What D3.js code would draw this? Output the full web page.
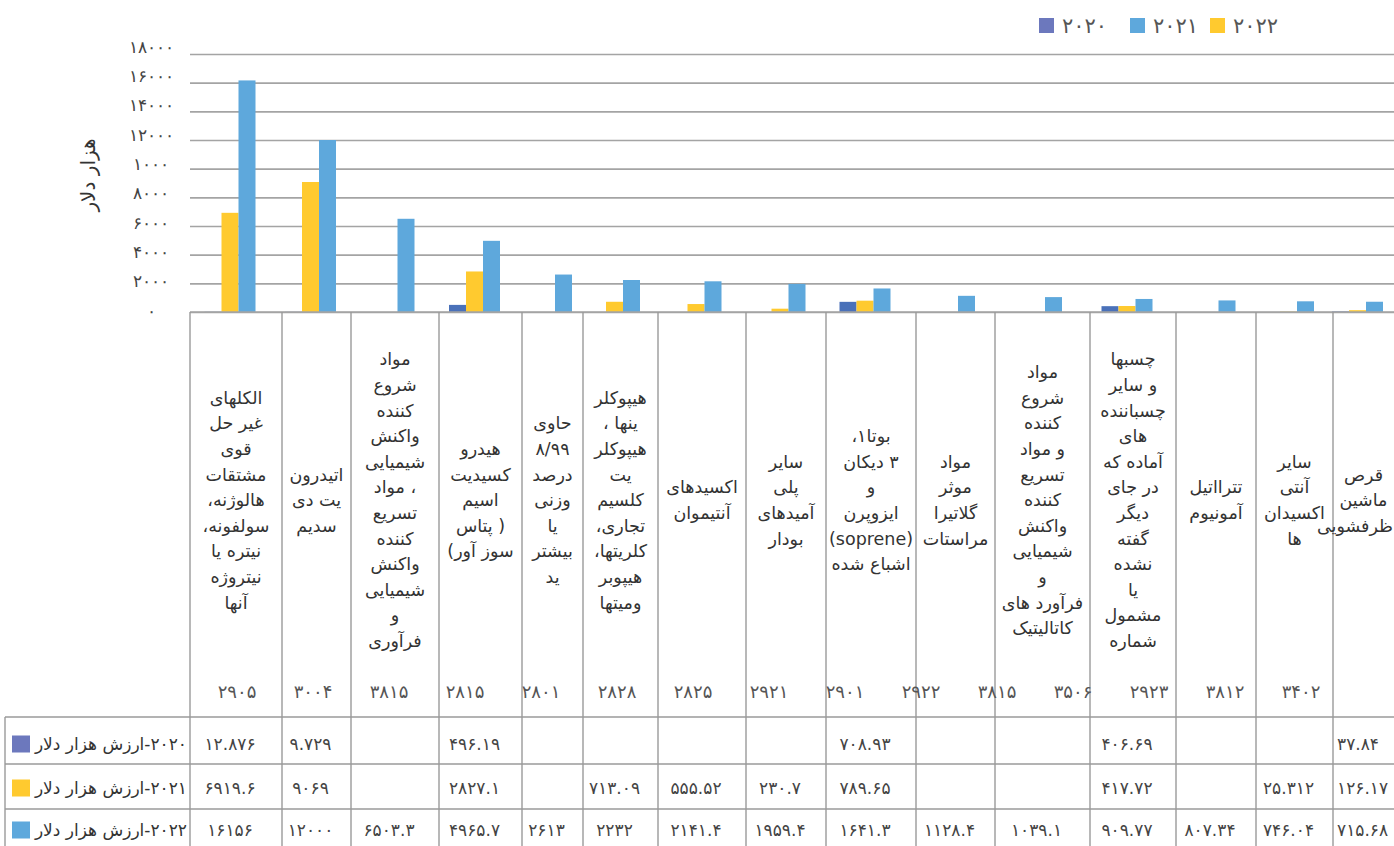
<!DOCTYPE html>
<html>
<head>
<meta charset="utf-8">
<script src="https://cdn.jsdelivr.net/npm/d3@7"></script>
<style>
  body { margin: 0; background: #fff; }
  svg { display: block; font-family: "DejaVu Sans", sans-serif; }
</style>
</head>
<body>
<div id="chart"></div>
<script>
//data
const years = ["2020", "2021", "2022"];
const hsCodes = [2905, 3004, 3815, 2815, 2801, 2828, 2825, 2921, 2901, 2922, 3815, 3506, 2923, 3812, 3402];
const categories = [
    "الکلهای\nغیر حل\nقوی\nمشتقات\nهالوژنه،\nسولفونه،\nنیتره یا\nنیتروژه\nآنها",
    "اتیدرون\nیت دی\nسدیم",
    "مواد\nشروع\nکننده\nواکنش\nشیمیایی\n، مواد\nتسریع\nکننده\nواکنش\nشیمیایی\nو\nفرآوری",
    "هیدرو\nکسیدیت\nاسیم\n( پتاس\nسوز آور)",
    "حاوی\n۸/۹۹\nدرصد\nوزنی\nیا\nبیشتر\nید",
    "هیپوکلر\nینها ،\nهیپوکلر\nیت\nکلسیم\nتجاری،\nکلریتها،\nهیپوبر\nومیتها",
    "اکسیدهای\nآنتیموان",
    "سایر\nپلی\nآمیدهای\nبودار",
    "بوتا۱،\n۳ دیکان\nو\nایزوپرن\n(soprene)\nاشباع شده",
    "مواد\nموثر\nگلاتیرا\nمراستات",
    "مواد\nشروع\nکننده\nو مواد\nتسریع\nکننده\nواکنش\nشیمیایی\nو\nفرآورد های\nکاتالیتیک",
    "چسبها\nو سایر\nچسباننده\nهای\nآماده که\nدر جای\nدیگر\nگفته\nنشده\nیا\nمشمول\nشماره",
    "تترااتیل\nآمونیوم",
    "سایر\nآنتی\nاکسیدان\nها",
    "قرص\nماشین\nظرفشویی"
];
const values2020 = [12.876, 9.729, null, 496.19, null, null, null, null, 708.93, null, null, 406.69, null, null, 37.84];
const values2021 = [6919.6, 9069, null, 2827.1, null, 713.09, 555.52, 230.7, 789.65, null, null, 417.72, null, 25.312, 126.17];
const values2022 = [16156, 12000, 6503.3, 4965.7, 2613, 2232, 2141.4, 1959.4, 1641.3, 1128.4, 1039.1, 909.77, 807.34, 746.04, 715.68];
const yTicks = [0, 2000, 4000, 6000, 8000, 10000, 12000, 14000, 16000, 18000];
const yTickLabels = ["۰", "۲۰۰۰", "۴۰۰۰", "۶۰۰۰", "۸۰۰۰", "۱۰۰۰", "۱۲۰۰۰", "۱۴۰۰۰", "۱۶۰۰۰", "۱۸۰۰۰"];
const rowLabel = "ارزش هزار دلار";

//layout
const width = 1394, height = 846;
const colEdges = [190, 282, 351, 439, 522, 583, 658, 746, 826, 916, 995, 1090, 1176, 1256, 1333, 1394];
const plotTop = 54, plotBottom = 312;
const tableTop = 717;
const rowLines = [764, 809];
const rowMid = [744, 788, 830];

//bars order in each group: 2020, 2021, 2022 ; legend and table keys are coloured as in the source
const barColor = {"2020": "#4a71b9", "2021": "#ffca2f", "2022": "#5ea8dc"};
const legendColor = {"2020": "#6c78bd", "2021": "#5ea8dc", "2022": "#ffca2f"};
const keyColor = {"2020": "#6c78bd", "2021": "#ffca2f", "2022": "#5ea8dc"};
const gridColor = "#a4a4a4";

const faDigits = "۰۱۲۳۴۵۶۷۸۹";
const toFa = s => String(s).replace(/[0-9]/g, d => faDigits[+d]);

const byYear = {"2020": values2020, "2021": values2021, "2022": values2022};

const svg = d3.select("#chart").append("svg")
    .attr("width", width)
    .attr("height", height);

svg.append("rect").attr("width", width).attr("height", height).attr("fill", "#fff");

//scales
const x = d3.scaleLinear()
    .domain(d3.range(colEdges.length))
    .range(colEdges);
const colMid = i => (x(i) + x(i + 1)) / 2;
const xInner = d3.scaleBand()
    .domain(years)
    .range([-25.5, 25.5]);
const y = d3.scaleLinear()
    .domain([0, 18000])
    .range([plotBottom, plotTop]);
const codeX = d3.scaleBand()
    .domain(d3.range(hsCodes.length))
    .range([199, 1339]);

//grid + y labels
const yAxis = svg.append("g")
    .attr("transform", `translate(${colEdges[0]},0)`)
    .call(d3.axisLeft(y)
        .tickValues(yTicks)
        .tickSize(-(width - colEdges[0]))
        .tickPadding(0)
        .tickFormat((d, i) => yTickLabels[i]));
yAxis.select(".domain").remove();
yAxis.selectAll(".tick line")
    .attr("stroke", gridColor)
    .attr("stroke-width", 1.6);
yAxis.selectAll(".tick text")
    .attr("x", -39)
    .attr("dy", d => 4 - d / 3000)
    .attr("text-anchor", "middle")
    .attr("fill", "#444")
    .style("font-size", "17px");

//y title
svg.append("text")
    .attr("transform", "translate(95,175) rotate(-90)")
    .attr("text-anchor", "middle")
    .attr("direction", "rtl")
    .attr("fill", "#333")
    .style("font-size", "20px")
    .text("هزار دلار");

//bars
const barData = [];
categories.forEach((c, i) => {
    years.forEach(yr => {
        const v = byYear[yr][i];
        if (v != null) barData.push({i: i, year: yr, value: v});
    });
});
svg.append("g").selectAll("rect")
    .data(barData)
    .enter()
    .append("rect")
        .attr("x", d => colMid(d.i) - 6 + xInner(d.year))
        .attr("y", d => y(d.value))
        .attr("width", xInner.bandwidth())
        .attr("height", d => y(0) - y(d.value))
        .attr("fill", d => barColor[d.year]);

//x axis line
svg.append("line")
    .attr("x1", colEdges[0]).attr("x2", width)
    .attr("y1", plotBottom).attr("y2", plotBottom)
    .attr("stroke", gridColor).attr("stroke-width", 1.6);

//table lines
const lines = svg.append("g").attr("stroke", "#9a9a9a").attr("stroke-width", 1.4);
colEdges.slice(0, -1).forEach((e, i) => {
    lines.append("line")
        .attr("x1", x(i)).attr("x2", x(i))
        .attr("y1", plotBottom).attr("y2", height);
});
lines.append("line").attr("x1", 5).attr("x2", 5).attr("y1", tableTop).attr("y2", height);
[tableTop].concat(rowLines).forEach(ly => {
    lines.append("line")
        .attr("x1", 5).attr("x2", width)
        .attr("y1", ly).attr("y2", ly);
});

//category labels
const lineH = 25.6;
const catG = svg.append("g");
categories.forEach((c, i) => {
    const parts = c.split("\n");
    const t = catG.append("text")
        .attr("text-anchor", "middle")
        .attr("direction", "rtl")
        .attr("fill", "#333")
        .style("font-size", "17.5px");
    parts.forEach((p, k) => {
        const ts = t.append("tspan")
            .attr("x", colMid(i))
            .attr("y", 500 - (parts.length - 1) * lineH / 2 + k * lineH)
            .attr("dy", "0.35em")
            .text(p);
        //keep wide lines of the last column inside the page
        const w = ts.node().getComputedTextLength();
        if (colMid(i) + w / 2 > width - 1) ts.attr("x", width - 1 - w / 2);
    });
});

//hs codes row
svg.append("g").selectAll("text")
    .data(hsCodes)
    .enter()
    .append("text")
        .attr("x", (d, i) => codeX(i) + codeX.bandwidth() / 2)
        .attr("y", 692)
        .attr("dy", "0.35em")
        .attr("text-anchor", "middle")
        .attr("fill", "#555")
        .style("font-size", "18px")
        .text(d => toFa(d));

//data table rows
years.forEach((yr, r) => {
    svg.append("rect")
        .attr("x", 12).attr("y", rowMid[r] - 8.5)
        .attr("width", 18).attr("height", 17)
        .attr("fill", keyColor[yr]);
    svg.append("text")
        .attr("x", 187).attr("y", rowMid[r])
        .attr("dy", "0.35em")
        .attr("direction", "rtl")
        .attr("text-anchor", "start")
        .attr("fill", "#333")
        .style("font-size", "17px")
        .text(toFa(yr) + "-" + rowLabel);
    svg.append("g").selectAll("text")
        .data(byYear[yr].map((v, i) => ({v: v, i: i})).filter(d => d.v != null))
        .enter()
        .append("text")
            .attr("x", d => colMid(d.i) - 6)
            .attr("y", rowMid[r])
            .attr("dy", "0.35em")
            .attr("text-anchor", "middle")
            .attr("fill", "#444")
            .style("font-size", "17px")
            .text(d => toFa(d.v))
            .each(function(d) {
                //keep the value clear of the cell's left border
                const w = this.getComputedTextLength();
                const minX = x(d.i) + 4 + w / 2;
                if (colMid(d.i) - 6 < minX) d3.select(this).attr("x", minX);
            });
});

//legend
const legend = svg.append("g").attr("transform", "translate(1039,18)");
const legX = d3.scaleOrdinal().domain(years).range([0, 91, 171]);
years.forEach(yr => {
    legend.append("rect")
        .attr("x", legX(yr)).attr("y", 0)
        .attr("width", 15).attr("height", 15)
        .attr("fill", legendColor[yr]);
    legend.append("text")
        .attr("x", legX(yr) + 23).attr("y", 8)
        .attr("dy", "0.35em")
        .attr("fill", "#555")
        .style("font-size", "21px")
        .text(toFa(yr));
});
</script>
</body>
</html>
